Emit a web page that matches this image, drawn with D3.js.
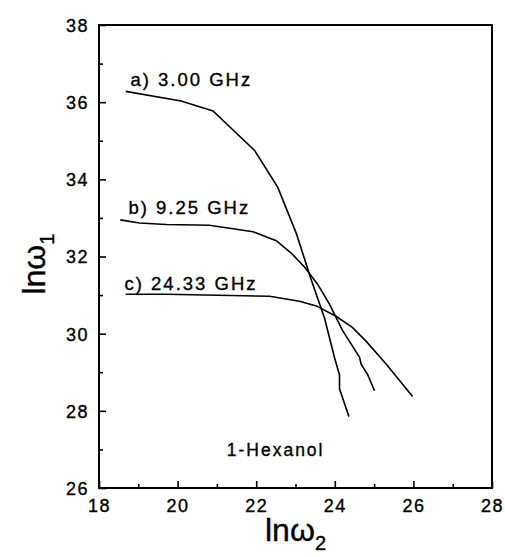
<!DOCTYPE html>
<html>
<head>
<meta charset="utf-8">
<script src="https://cdn.jsdelivr.net/npm/d3@7"></script>
<style>
  body { margin: 0; background: #fff; }
  svg text { font-family: "Liberation Sans", Arial, sans-serif; fill: #000; stroke: #000; stroke-width: 0.35px; }
</style>
</head>
<body>
<div id="chart"></div>
<script>
// ln w2 (x) / ln w1 (y)
var aX = [18.68, 20.09, 20.9, 21.96, 22.55, 23.02, 23.4, 23.74, 23.99, 24.12, 24.12, 24.36];
var aY = [36.28, 36.03, 35.77, 34.75, 33.79, 32.6, 31.4, 30.4, 29.39, 28.93, 28.57, 27.85];

var bX = [18.54, 19.03, 19.71, 20.81, 21.92, 22.51, 22.89, 23.23, 23.57, 23.86, 24.2, 24.63, 24.67, 24.84, 25.01];
var bY = [32.95, 32.87, 32.83, 32.81, 32.64, 32.41, 32.09, 31.73, 31.27, 30.77, 30.08, 29.39, 29.21, 28.93, 28.52];

var cX = [18.68, 19.71, 22.34, 23.1, 23.53, 24.03, 24.44, 24.8, 25.31, 25.98];
var cY = [31.02, 31.02, 30.97, 30.84, 30.72, 30.45, 30.17, 29.8, 29.21, 28.37];

var seriesNames = ["a) 3.00 GHz", "b) 9.25 GHz", "c) 24.33 GHz"];
var labelAt = [[18.8, 36.42], [18.75, 33.1], [18.65, 31.14]];
var xTicks = [18, 20, 22, 24, 26, 28];
var yTicks = [26, 28, 30, 32, 34, 36, 38];
var note = "1-Hexanol";

var W = 505, H = 557;
var margin = {top: 25, right: 13, bottom: 69, left: 99},
    width = W - margin.left - margin.right,
    height = H - margin.top - margin.bottom;

var svg = d3.select("#chart").append("svg")
    .attr("width", W)
    .attr("height", H);

var g = svg.append("g")
    .attr("transform", "translate(" + margin.left + "," + margin.top + ")");

var x = d3.scaleLinear().domain([18, 28]).range([0, width]);
var y = d3.scaleLinear().domain([26, 38]).range([height, 0]);

// minor ticks first, then major with labels
g.append("g")
    .attr("transform", "translate(0," + height + ")")
    .call(d3.axisBottom(x).tickValues(d3.range(19, 28, 2)).tickSize(-4).tickFormat(""));
g.append("g")
    .call(d3.axisLeft(y).tickValues(d3.range(27, 38, 2)).tickSize(-4).tickFormat(""));

var xAxis = g.append("g")
    .attr("transform", "translate(0," + height + ")")
    .call(d3.axisBottom(x).tickValues(xTicks).tickSize(-7).tickPadding(11));
var yAxis = g.append("g")
    .call(d3.axisLeft(y).tickValues(yTicks).tickSize(-7).tickPadding(10));

g.selectAll(".domain").remove();
g.selectAll(".tick line").attr("stroke", "#000").attr("stroke-width", 1.6);
g.selectAll(".tick text")
    .style("font-size", "18px")
    .style("letter-spacing", "1.5px")
    .attr("fill", "#000");
yAxis.selectAll(".tick text").attr("dy", "0.36em");

// frame
g.append("rect")
    .attr("width", width)
    .attr("height", height)
    .attr("fill", "none")
    .attr("stroke", "#000")
    .attr("stroke-width", 2);

var line = d3.line()
    .x(function(d) { return x(d[0]); })
    .y(function(d) { return y(d[1]); });

var series = [d3.zip(aX, aY), d3.zip(bX, bY), d3.zip(cX, cY)];

g.selectAll("path.curve")
    .data(series)
    .enter().append("path")
    .attr("class", "curve")
    .attr("d", line)
    .attr("fill", "none")
    .attr("stroke", "#000")
    .attr("stroke-width", 1.6);

g.selectAll("text.lbl")
    .data(seriesNames)
    .enter().append("text")
    .attr("class", "lbl")
    .attr("x", function(d, i) { return x(labelAt[i][0]); })
    .attr("y", function(d, i) { return y(labelAt[i][1]); })
    .style("font-size", "18.5px")
    .style("letter-spacing", "2px")
    .text(function(d) { return d; });

g.append("text")
    .attr("x", x(21.25))
    .attr("y", y(26.82))
    .style("font-size", "17.5px")
    .style("letter-spacing", "2px")
    .text(note);

// axis titles
var xt = svg.append("text")
    .attr("x", margin.left + x(23))
    .attr("y", 541)
    .attr("text-anchor", "middle")
    .style("font-size", "32px");
xt.append("tspan").text("ln\u03c9");
xt.append("tspan").attr("dy", 9).style("font-size", "20px").text("2");

var yt = svg.append("text")
    .attr("transform", "translate(45," + (margin.top + y(31.8)) + ") rotate(-90)")
    .attr("text-anchor", "middle")
    .style("font-size", "32px");
yt.append("tspan").text("ln\u03c9");
yt.append("tspan").attr("dy", 9).style("font-size", "20px").text("1");
</script>
</body>
</html>
